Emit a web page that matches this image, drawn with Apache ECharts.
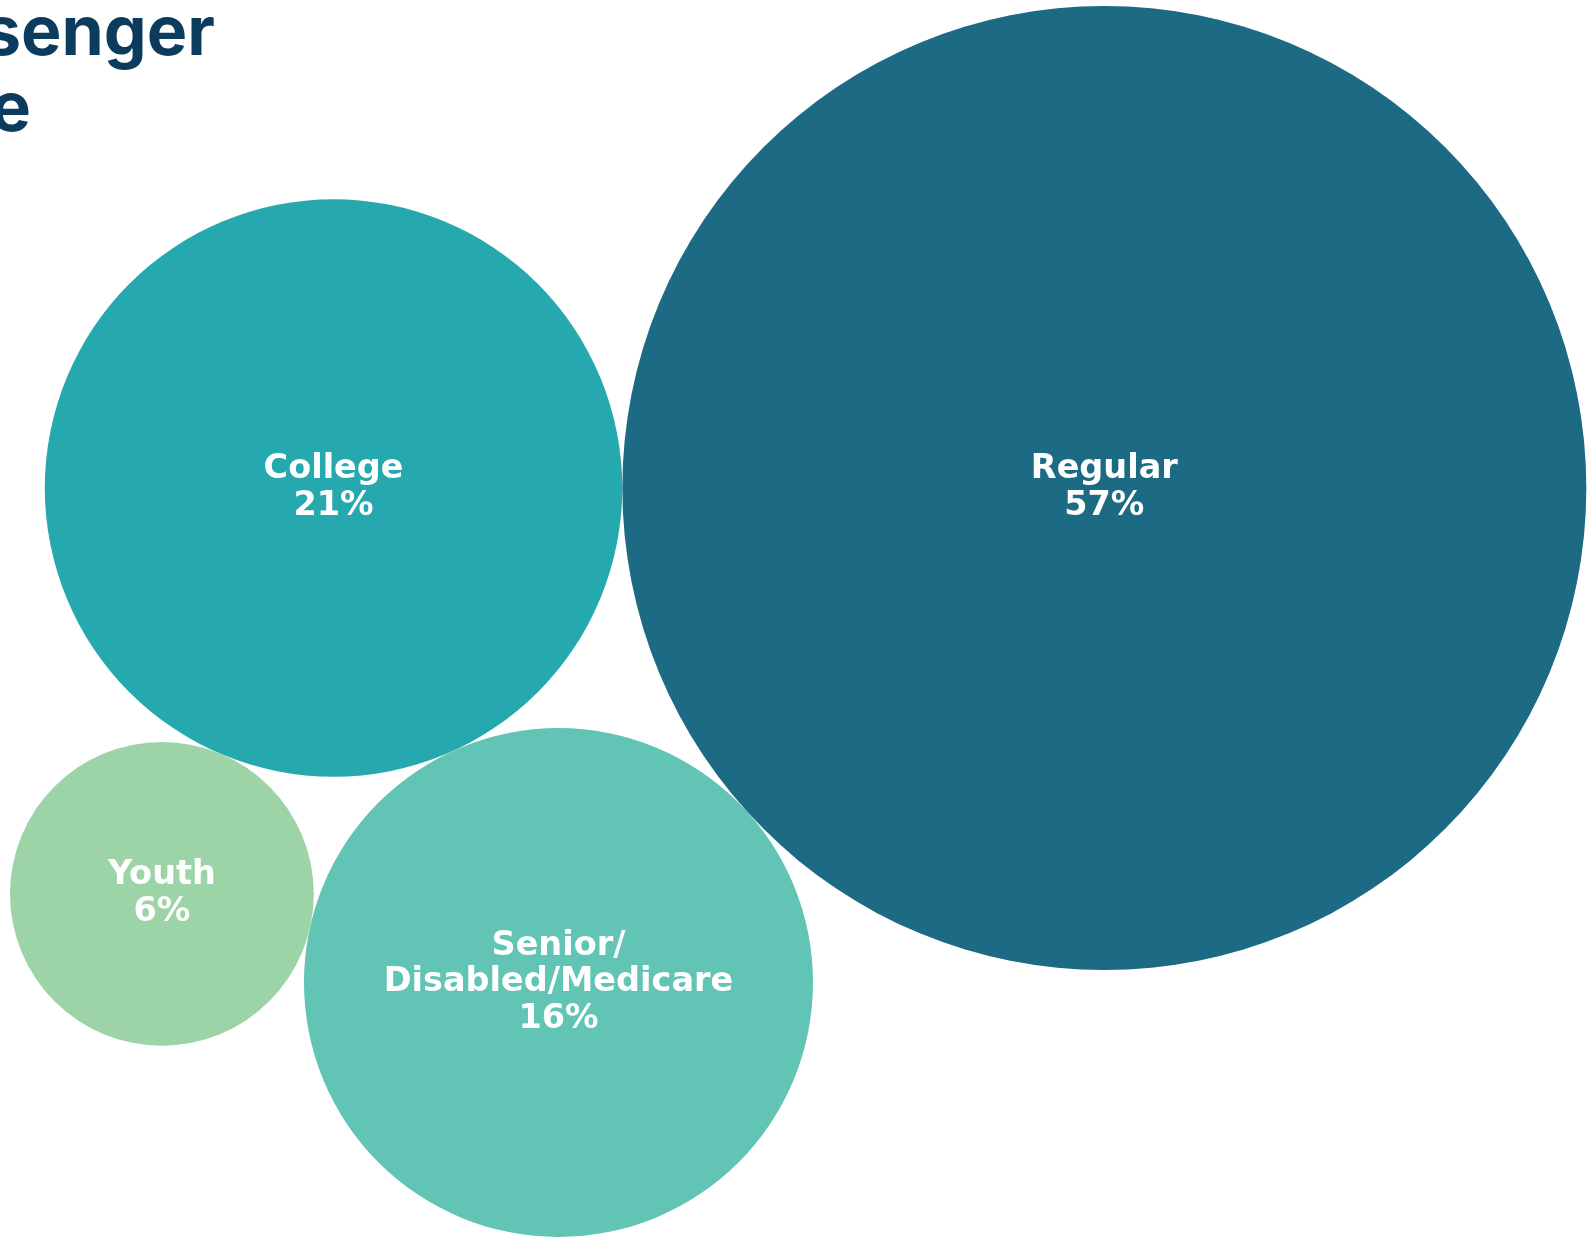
<!DOCTYPE html>
<html>
<head>
<meta charset="utf-8">
<script src="https://cdn.jsdelivr.net/npm/echarts@6/dist/echarts.min.js"></script>
<style>
  html, body { margin: 0; padding: 0; background: #ffffff; }
  #chart { width: 1589px; height: 1238px; }
</style>
</head>
<body>
<div id="chart"></div>
<script>
// ---- data ----
const categories = ['Regular', 'College', 'Senior/Disabled/Medicare', 'Youth'];
const shares = [57.4, 20.6, 16.0, 5.7];           // percent of passengers (estimated)
const titleLines = ['Passenger', 'Type'];

// ---- packed-bubble layout (areas proportional to shares) ----
const radii = shares.map(v => Math.sqrt(v));
function tangent(a, b, r, side) {
  const dx = b.x - a.x, dy = b.y - a.y;
  const d = Math.hypot(dx, dy);
  const dA = a.r + r, dB = b.r + r;
  const along = (d * d + dA * dA - dB * dB) / (2 * d);
  const h = Math.sqrt(Math.max(0, dA * dA - along * along));
  const ux = dx / d, uy = dy / d;
  const px = -uy, py = ux;
  return { x: a.x + along * ux + side * h * px, y: a.y + along * uy + side * h * py, r: r };
}
const P = [];
P[0] = { x: 0, y: 0, r: radii[0] };                        // Regular
P[1] = { x: -(radii[0] + radii[1]), y: 0, r: radii[1] };    // College, left of Regular
P[2] = tangent(P[0], P[1], radii[2], -1);                  // Senior, below both
P[3] = tangent(P[1], P[2], radii[3], 1);                   // Youth, left of College & Senior
let minX = Infinity, maxX = -Infinity, minY = Infinity, maxY = -Infinity;
P.forEach(p => {
  minX = Math.min(minX, p.x - p.r); maxX = Math.max(maxX, p.x + p.r);
  minY = Math.min(minY, p.y - p.r); maxY = Math.max(maxY, p.y + p.r);
});
const boxW = 1577, boxH = 1231;
const scale = Math.min(boxW / (maxX - minX), boxH / (maxY - minY));

const chart = echarts.init(document.getElementById('chart'), null, { renderer: 'canvas' });
const titleStyle = {
  fill: '#0b3c5d', fontFamily: 'Inter', fontWeight: 'bold', fontSize: 68,
  align: 'right', verticalAlign: 'middle'
};
const option = {
  animation: false,
  backgroundColor: '#ffffff',
  color: ['#1d6a85', '#25a9af', '#61c4b4', '#9cd3a7'],
  graphic: [
    { type: 'text', z: 10, style: Object.assign({ text: titleLines[0], x: 215, y: 35 }, titleStyle) },
    { type: 'text', z: 10, style: Object.assign({ text: titleLines[1], x: 31, y: 111 }, titleStyle) }
  ],
  grid: {
    left: 10,
    top: 6,
    width: (maxX - minX) * scale,
    height: (maxY - minY) * scale
  },
  xAxis: { type: 'value', min: minX, max: maxX, show: false },
  yAxis: { type: 'value', min: minY, max: maxY, inverse: true, show: false },
  series: [{
    type: 'scatter',
    symbol: 'circle',
    data: categories.map((name, i) => ({
      name: name,
      value: [P[i].x, P[i].y, shares[i]],
      symbolSize: 2 * P[i].r * scale,
      itemStyle: { opacity: 1 }
    })),
    colorBy: 'data',
    label: {
      show: true,
      position: 'inside',
      color: '#ffffff',
      fontFamily: 'DejaVu Sans',
      fontWeight: 'bold',
      fontSize: 33.5,
      lineHeight: 36.5,
      align: 'center',
      formatter: function (p) {
        const nm = p.name.length > 12 ? p.name.replace('/', '/\n') : p.name;
        return nm + '\n' + Math.round(p.value[2]) + '%';
      }
    },
    emphasis: { disabled: true }
  }]
};
chart.setOption(option);
</script>
</body>
</html>
